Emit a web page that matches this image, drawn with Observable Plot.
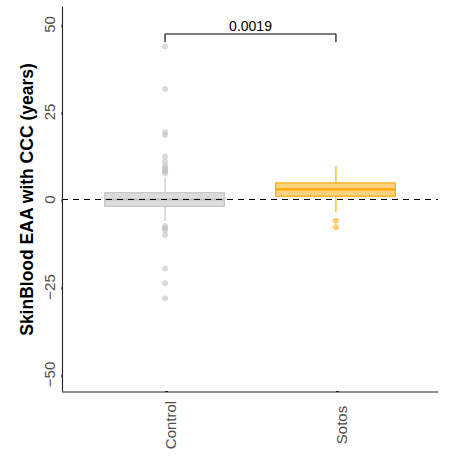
<!DOCTYPE html>
<html>
<head>
<meta charset="utf-8">
<script src="https://cdn.jsdelivr.net/npm/d3@7"></script>
<script src="https://cdn.jsdelivr.net/npm/@observablehq/plot@0.6"></script>
<style>
  html, body { margin: 0; padding: 0; background: #fff; }
  #chart svg { font-family: "Liberation Sans", Arial, Helvetica, sans-serif; }
</style>
</head>
<body>
<div id="chart"></div>
<script>
// ---- data ----
const groups = ["Control", "Sotos"];
const q1 = [-2.1, 0.8];
const median = [0, 2.9];
const q3 = [1.8, 4.6];
const whiskerLo = [-6.3, -3.8];
const whiskerHi = [6.1, 9.4];
const controlOutliers = [43.7, 31.6, 19.2, 18.4, 12.2, 10.8, 9.6, 8.9, 8.4, 8.0, 7.5, -7.6, -8.2, -8.7, -10.1, -19.7, -23.9, -28.2];
const sotosOutliers = [-6.1, -7.9];
const yTicks = [-50, -25, 0, 25, 50];
const yDomain = [-55, 55];
const pValueLabel = "0.0019";
const bracketY = 47.3;
const bracketTickY = 45.1;
const yTitle = "SkinBlood EAA with CCC (years)";

const strokeColors = ["#c2c2c2", "#FFA500"];
const fillColors = ["#dcdcdc", "#FFD280"];
const dotColors = ["#bdbdbd", "#FFA500"];

// ---- tables ----
const boxes = groups.map((g, i) => ({
  g, x: i + 1, q1: q1[i], median: median[i], q3: q3[i], lo: whiskerLo[i], hi: whiskerHi[i],
  stroke: strokeColors[i], fill: fillColors[i]
}));
const outliers = [
  ...controlOutliers.map(v => ({x: 1, y: v, c: dotColors[0]})),
  ...sotosOutliers.map(v => ({x: 2, y: v, c: dotColors[1]}))
];
const bracket = [
  {x: 1, y: bracketTickY}, {x: 1, y: bracketY}, {x: 2, y: bracketY}, {x: 2, y: bracketTickY}
];
const halfBox = 0.35;

const chart = Plot.plot({
  width: 449,
  height: 457,
  marginLeft: 62,
  marginRight: 11,
  marginTop: 6.5,
  marginBottom: 65.5,
  x: {type: "linear", domain: [0.4, 2.6]},
  y: {domain: yDomain},
  marks: [
    // whiskers
    Plot.ruleX(boxes, {x: "x", y1: "q3", y2: "hi", stroke: d => d.stroke, strokeWidth: 1.1}),
    Plot.ruleX(boxes, {x: "x", y1: "lo", y2: "q1", stroke: d => d.stroke, strokeWidth: 1.1}),
    // boxes
    Plot.rect(boxes, {x1: d => d.x - halfBox, x2: d => d.x + halfBox, y1: "q1", y2: "q3",
      fill: d => d.fill, stroke: d => d.stroke, strokeWidth: 1.1}),
    // medians
    Plot.ruleY(boxes, {y: "median", x1: d => d.x - halfBox, x2: d => d.x + halfBox, stroke: d => d.stroke, strokeWidth: 2.2}),
    // outliers
    Plot.dot(outliers, {x: "x", y: "y", r: 3, fill: d => d.c, fillOpacity: 0.55, stroke: "none"}),
    // reference line at 0
    Plot.ruleY([0], {stroke: "black", strokeWidth: 1.2, strokeDasharray: "6,5"}),
    // axes lines
    Plot.ruleX([0.4], {stroke: "#222", strokeWidth: 1.1}),
    Plot.ruleY([yDomain[0]], {stroke: "#222", strokeWidth: 1.1}),
    Plot.axisY({ticks: yTicks, tickSize: 3, tickPadding: 9, rotate: -90, textAnchor: "middle",
      fontSize: 15, color: "#4d4d4d", stroke: "#222", label: null, tickFormat: d => d < 0 ? "\u2212" + Math.abs(d) : String(d)}),
    Plot.axisX({ticks: [1, 2], tickFormat: d => groups[d - 1], tickSize: 3, tickPadding: 30,
      rotate: -90, textAnchor: "middle", lineAnchor: "top", fontSize: 15, color: "#4d4d4d", stroke: "#222", label: null}),
    // y title
    Plot.text([yTitle], {frameAnchor: "left", dx: -35, rotate: -90, textAnchor: "middle", fontSize: 17.5, fontWeight: "bold", fill: "black"}),
    // significance bracket
    Plot.line(bracket, {x: "x", y: "y", stroke: "black", strokeWidth: 1.1}),
    Plot.text([pValueLabel], {x: [1.5], y: [bracketY], text: d => d, dy: -3, lineAnchor: "bottom", fontSize: 14, fill: "black"})
  ]
});
document.getElementById("chart").appendChild(chart);
</script>
</body>
</html>
